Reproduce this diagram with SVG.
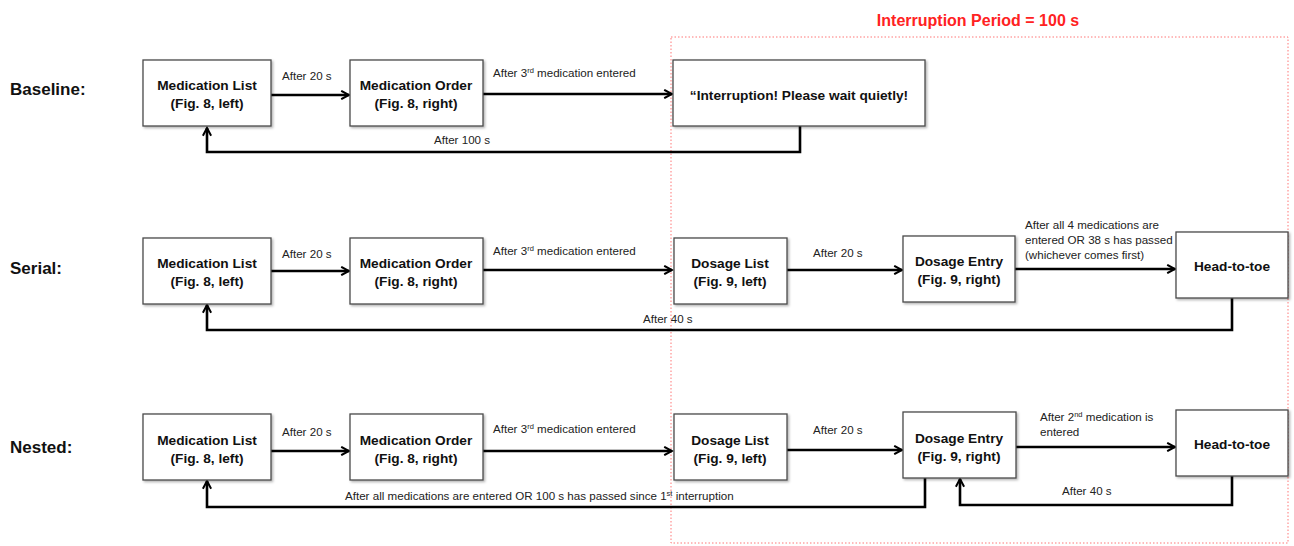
<svg xmlns="http://www.w3.org/2000/svg" width="1294" height="546" viewBox="0 0 1294 546">
<style>
.box{fill:#fff;stroke:#4a4a4a;stroke-width:1.3;filter:url(#sh)}
.bt{font-family:"Liberation Sans",Arial,sans-serif;font-weight:bold;font-size:13.7px;fill:#111;text-anchor:middle}
.lb{font-family:"Liberation Sans",Arial,sans-serif;font-size:11.6px;fill:#222}
.row{font-family:"Liberation Sans",Arial,sans-serif;font-weight:bold;font-size:17px;fill:#111}
.c{fill:none;stroke:#000;stroke-width:2.6;stroke-linejoin:miter}
.a{marker-end:url(#ah)}
</style>
<defs>
<filter id="sh" x="-10%" y="-10%" width="130%" height="130%">
<feDropShadow dx="1.5" dy="1.5" stdDeviation="1" flood-color="#000" flood-opacity="0.3"/>
</filter>
<marker id="ah" viewBox="0 0 10 10" refX="8.5" refY="5" markerWidth="4" markerHeight="4" orient="auto" markerUnits="strokeWidth">
<path d="M1,1 L8.5,5 L1,9" fill="none" stroke="#000" stroke-width="2"/>
</marker>
</defs>

<text x="978" y="26" text-anchor="middle" style="font-family:'Liberation Sans',Arial,sans-serif;font-weight:bold;font-size:16px;fill:#f22">Interruption Period = 100 s</text>
<rect x="671" y="37" width="617" height="506" fill="none" stroke="#f77" stroke-width="1" stroke-dasharray="1.5,2"/>

<text class="row" x="10" y="95">Baseline:</text>
<text class="row" x="10" y="274">Serial:</text>
<text class="row" x="10" y="453">Nested:</text>

<g id="connectors">
<path class="c a" d="M271,95 H349"/>
<path class="c a" d="M483,94 H672"/>
<path class="c a" d="M800,126 V152 H207 V128"/>
<path class="c a" d="M271,271 H349"/>
<path class="c a" d="M483,270 H672"/>
<path class="c a" d="M787,270 H902"/>
<path class="c a" d="M1015,269 H1175"/>
<path class="c a" d="M1232,298 V330 H207 V305"/>
<path class="c a" d="M271,451 H349"/>
<path class="c a" d="M483,451 H672"/>
<path class="c a" d="M787,450 H902"/>
<path class="c a" d="M1016,447 H1175"/>
<path class="c a" d="M1232,476 V505 H960 V479"/>
<path class="c a" d="M925,478 V507 H207 V481"/>
<text class="lb" x="282" y="80">After 20 s</text>
<text class="lb" x="493" y="77">After 3<tspan font-size="7.5" dy="-4">rd</tspan><tspan dy="4"> medication entered</tspan></text>
<text class="lb" x="434" y="144">After 100 s</text>
<text class="lb" x="282" y="258">After 20 s</text>
<text class="lb" x="493" y="255">After 3<tspan font-size="7.5" dy="-4">rd</tspan><tspan dy="4"> medication entered</tspan></text>
<text class="lb" x="813" y="257">After 20 s</text>
<text class="lb" x="1025" y="229">After all 4 medications are</text>
<text class="lb" x="1025" y="244">entered OR 38 s has passed</text>
<text class="lb" x="1025" y="259">(whichever comes first)</text>
<text class="lb" x="643" y="323">After 40 s</text>
<text class="lb" x="282" y="436">After 20 s</text>
<text class="lb" x="493" y="433">After 3<tspan font-size="7.5" dy="-4">rd</tspan><tspan dy="4"> medication entered</tspan></text>
<text class="lb" x="813" y="434">After 20 s</text>
<text class="lb" x="1040" y="421">After 2<tspan font-size="7.5" dy="-4">nd</tspan><tspan dy="4"> medication is</tspan></text>
<text class="lb" x="1040" y="436">entered</text>
<text class="lb" x="1062" y="495">After 40 s</text>
<text class="lb" x="345" y="500">After all medications are entered OR 100 s has passed since 1<tspan font-size="7.5" dy="-4">st</tspan><tspan dy="4"> interruption</tspan></text>
</g>

<g id="b-medlist"><rect class="box" x="143" y="60" width="128" height="66"/><text class="bt" x="207" y="90">Medication List</text><text class="bt" x="207" y="108">(Fig. 8, left)</text></g>
<g id="b-medorder"><rect class="box" x="350" y="60" width="133" height="66"/><text class="bt" x="416" y="90">Medication Order</text><text class="bt" x="416" y="108">(Fig. 8, right)</text></g>
<g id="b-interrupt"><rect class="box" x="673" y="60" width="252" height="66"/><text class="bt" x="799" y="100">“Interruption! Please wait quietly!</text></g>

<g id="s-medlist"><rect class="box" x="143" y="238" width="128" height="66"/><text class="bt" x="207" y="268">Medication List</text><text class="bt" x="207" y="286">(Fig. 8, left)</text></g>
<g id="s-medorder"><rect class="box" x="350" y="238" width="133" height="66"/><text class="bt" x="416" y="268">Medication Order</text><text class="bt" x="416" y="286">(Fig. 8, right)</text></g>
<g id="s-doslist"><rect class="box" x="674" y="238" width="113" height="66"/><text class="bt" x="730" y="268">Dosage List</text><text class="bt" x="730" y="286">(Fig. 9, left)</text></g>
<g id="s-dosentry"><rect class="box" x="903" y="236" width="112" height="66"/><text class="bt" x="959" y="266">Dosage Entry</text><text class="bt" x="959" y="284">(Fig. 9, right)</text></g>
<g id="s-head"><rect class="box" x="1176" y="232" width="112" height="66"/><text class="bt" x="1232" y="271">Head-to-toe</text></g>

<g id="n-medlist"><rect class="box" x="143" y="414" width="128" height="66"/><text class="bt" x="207" y="445">Medication List</text><text class="bt" x="207" y="463">(Fig. 8, left)</text></g>
<g id="n-medorder"><rect class="box" x="350" y="414" width="133" height="66"/><text class="bt" x="416" y="445">Medication Order</text><text class="bt" x="416" y="463">(Fig. 8, right)</text></g>
<g id="n-doslist"><rect class="box" x="674" y="414" width="113" height="66"/><text class="bt" x="730" y="445">Dosage List</text><text class="bt" x="730" y="463">(Fig. 9, left)</text></g>
<g id="n-dosentry"><rect class="box" x="903" y="412" width="113" height="66"/><text class="bt" x="959" y="443">Dosage Entry</text><text class="bt" x="959" y="461">(Fig. 9, right)</text></g>
<g id="n-head"><rect class="box" x="1176" y="410" width="112" height="66"/><text class="bt" x="1232" y="449">Head-to-toe</text></g>
</svg>
